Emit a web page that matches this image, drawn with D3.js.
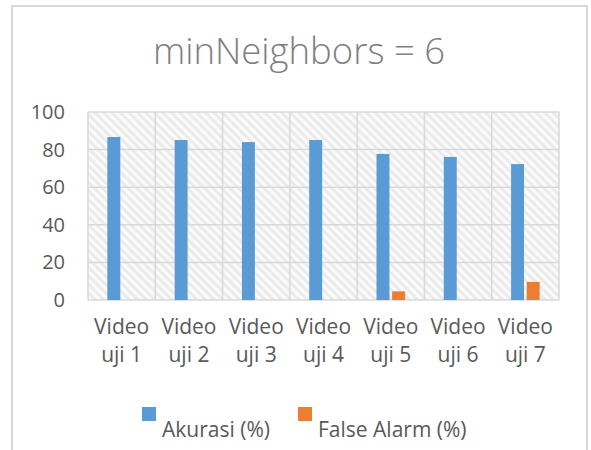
<!DOCTYPE html>
<html>
<head>
<meta charset="utf-8">
<script src="https://cdn.jsdelivr.net/npm/d3@7"></script>
<style>
  body { margin: 0; background: #fff; }
  text { font-family: "Open Sans", sans-serif; }
</style>
</head>
<body>
<script>
// chart data
var categories = ["Video uji 1", "Video uji 2", "Video uji 3", "Video uji 4", "Video uji 5", "Video uji 6", "Video uji 7"];
var akurasi = [86.7, 85.1, 84.0, 85.1, 77.7, 76.1, 72.3];
var falseAlarm = [0, 0, 0, 0, 4.6, 0, 9.6];
var seriesNames = ["Akurasi (%)", "False Alarm (%)"];
var yTicks = [0, 20, 40, 60, 80, 100];

var svgWidth = 591;
var svgHeight = 450;

var margin = { top: 112, right: 32, bottom: 150, left: 88 };
var width = svgWidth - margin.left - margin.right;
var height = svgHeight - margin.top - margin.bottom;

var svg = d3.select("body")
  .append("svg")
  .attr("width", svgWidth)
  .attr("height", svgHeight);

// hatch pattern for the plot area
var defs = svg.append("defs");
var pat = defs.append("pattern")
  .attr("id", "hatch")
  .attr("patternUnits", "userSpaceOnUse")
  .attr("width", 6)
  .attr("height", 6)
  .attr("patternTransform", "rotate(-45)");
pat.append("rect").attr("width", 6).attr("height", 6).attr("fill", "#ebebeb");
pat.append("rect").attr("width", 3).attr("height", 6).attr("fill", "#fbfbfb");

// outer chart border (no bottom edge visible)
svg.append("path")
  .attr("d", "M12,450 V6 H587 V450")
  .attr("fill", "none")
  .attr("stroke", "#d9d9d9")
  .attr("stroke-width", 2);

// title
svg.append("text")
  .attr("x", 299)
  .attr("y", 64)
  .attr("text-anchor", "middle")
  .attr("fill", "#7f7f7f")
  .style("font-size", "36.5px")
  .style("font-weight", 300)
  .text("minNeighbors = 6");

var chartGroup = svg.append("g")
  .attr("transform", `translate(${margin.left}, ${margin.top})`);

var x0 = d3.scaleBand()
  .domain(categories)
  .range([0, width]);

var x1 = d3.scaleBand()
  .domain(seriesNames)
  .range([0, x0.bandwidth()])
  .paddingInner(0.17)
  .paddingOuter(1.24);

var y = d3.scaleLinear()
  .domain([0, 100])
  .range([height, 0]);

// plot background
chartGroup.append("rect")
  .attr("width", width)
  .attr("height", height)
  .attr("fill", "url(#hatch)");

// horizontal gridlines
chartGroup.append("g").selectAll("line")
  .data(yTicks)
  .enter()
  .append("line")
  .attr("x1", 0)
  .attr("x2", width)
  .attr("y1", d => y(d))
  .attr("y2", d => y(d))
  .attr("stroke", "#d9d9d9")
  .attr("stroke-width", 1.5);

// vertical gridlines at category edges
var edges = categories.map(c => x0(c)).concat([width]);
chartGroup.append("g").selectAll("line")
  .data(edges)
  .enter()
  .append("line")
  .attr("x1", d => d)
  .attr("x2", d => d)
  .attr("y1", 0)
  .attr("y2", height)
  .attr("stroke", "#d9d9d9")
  .attr("stroke-width", 1.5);

// y axis labels
var leftAxis = d3.axisLeft(y).tickValues(yTicks).tickSize(0).tickPadding(23);
var yAxisG = chartGroup.append("g").call(leftAxis);
yAxisG.select(".domain").remove();
yAxisG.selectAll("text")
  .attr("fill", "#595959")
  .style("font-size", "20px");

// bars
chartGroup.append("g").selectAll("rect")
  .data(akurasi)
  .enter()
  .append("rect")
  .attr("x", (d, i) => x0(categories[i]) + x1(seriesNames[0]))
  .attr("width", x1.bandwidth())
  .attr("y", d => y(d))
  .attr("height", d => height - y(d))
  .attr("fill", "#5b9bd5");

chartGroup.append("g").selectAll("rect")
  .data(falseAlarm)
  .enter()
  .append("rect")
  .attr("x", (d, i) => x0(categories[i]) + x1(seriesNames[1]))
  .attr("width", x1.bandwidth())
  .attr("y", d => y(d))
  .attr("height", d => height - y(d))
  .attr("fill", "#ed7d31");

// x labels on two lines
var xl = chartGroup.append("g").selectAll("text")
  .data(categories)
  .enter()
  .append("text")
  .attr("text-anchor", "middle")
  .attr("fill", "#595959")
  .style("font-size", "21px")
  .attr("transform", d => `translate(${x0(d) + x0.bandwidth() / 2}, ${height + 34})`);
xl.append("tspan").attr("x", 0).attr("y", 0).text(d => d.split(" ")[0]);
xl.append("tspan").attr("x", 0).attr("y", 28).text(d => d.split(" ").slice(1).join(" "));

// legend
var legendX = [142, 298];
var legendColors = ["#5b9bd5", "#ed7d31"];
seriesNames.forEach(function(name, i) {
  svg.append("rect")
    .attr("x", legendX[i])
    .attr("y", 407)
    .attr("width", 14)
    .attr("height", 14)
    .attr("fill", legendColors[i]);
  svg.append("text")
    .attr("x", legendX[i] + 20)
    .attr("y", 437)
    .attr("fill", "#595959")
    .style("font-size", "21px")
    .text(name);
});
</script>
</body>
</html>
